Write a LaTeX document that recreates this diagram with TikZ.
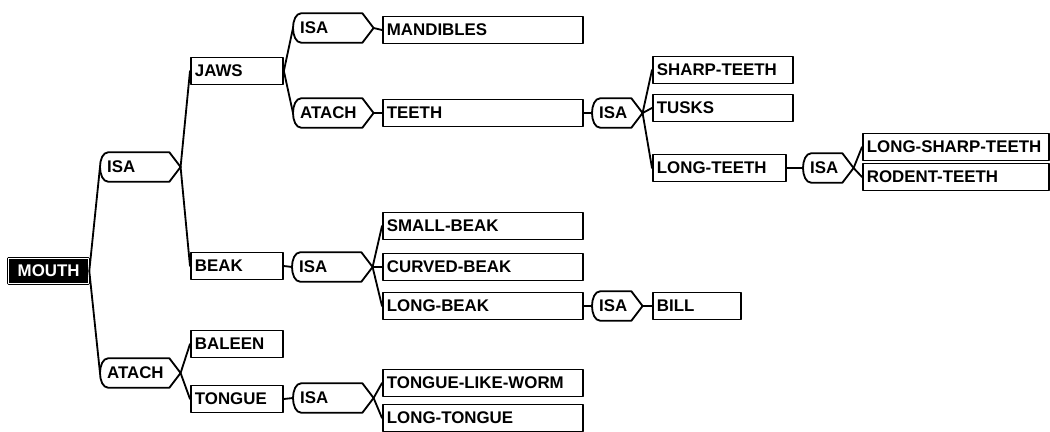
\documentclass[tikz,border=0pt]{standalone}
\usepackage{fontspec}
\setmainfont{Liberation Sans}
\tikzset{
  box/.style={draw, line width=1.3pt, anchor=west, inner xsep=0.1cm, inner ysep=1pt,
    minimum height=0.675cm, text width=#1, align=left},
  % relation tag: round on the left, pointed on the right
  rel/.style={anchor=west, inner xsep=0.17cm, inner ysep=1pt, minimum height=0.725cm,
    text width=#1, align=left,
    append after command={\pgfextra{\draw[line width=1.3pt, line join=round]
      ([xshift=6pt]\tikzlastnode.north west) -- ([xshift=-8pt]\tikzlastnode.north east)
      -- (\tikzlastnode.east) -- ([xshift=-8pt]\tikzlastnode.south east)
      -- ([xshift=6pt]\tikzlastnode.south west)
      .. controls ([xshift=-2pt]\tikzlastnode.south west) and ([xshift=-2pt]\tikzlastnode.north west) .. cycle;}}},
  link/.style={line width=1.3pt},
}

\begin{document}
\begin{tikzpicture}[line cap=round,line join=round,x=0.025cm,y=-0.025cm,
    font=\fontsize{12}{14}\selectfont\bfseries]
	\useasboundingbox (0,0) rectangle (1050,432);
	\node[anchor=west, draw, fill=black, text=white, line width=0.9pt, double=white,
	  double distance=0.5pt, minimum width=2.0cm, minimum height=0.63cm] (mouth) at (8,271) {MOUTH};
	\node[rel=1.66cm] (isa) at (100,167) {ISA};
	\node[rel=1.66cm] (atach) at (100,373) {ATACH};
	% upper branch
	\node[box=2.1cm] (jaws) at (190,71) {JAWS};
	\node[rel=1.66cm] (jawsisa) at (293,28) {ISA};
	\node[rel=1.66cm] (jawsatach) at (293,113) {ATACH};
	\node[box=4.8cm] (mandibles) at (382,30) {MANDIBLES};
	\node[box=4.8cm] (teeth) at (382,113) {TEETH};
	\node[rel=0.91cm] (teethisa) at (592,113) {ISA};
	\node[box=3.3cm] (sharp) at (652,70) {SHARP-TEETH};
	\node[box=3.3cm] (tusks) at (652,108) {TUSKS};
	\node[box=3.12cm] (longteeth) at (652,168) {LONG-TEETH};
	\node[rel=0.91cm] (longteethisa) at (803,168) {ISA};
	\node[box=4.45cm] (longsharp) at (862,147) {LONG-SHARP-TEETH};
	\node[box=4.45cm] (rodent) at (862,177) {RODENT-TEETH};
	\node[box=2.1cm] (beak) at (190,266) {BEAK};
	\node[rel=1.66cm] (beakisa) at (292,267) {ISA};
	\node[box=4.8cm] (small) at (382,226) {SMALL-BEAK};
	\node[box=4.8cm] (curved) at (382,267) {CURVED-BEAK};
	\node[box=4.8cm] (longbeak) at (382,306) {LONG-BEAK};
	\node[rel=0.91cm] (longbeakisa) at (592,306) {ISA};
	\node[box=2.0cm] (bill) at (652,306) {BILL};
	% lower branch
	\node[box=2.1cm] (baleen) at (190,344) {BALEEN};
	\node[box=2.1cm] (tongue) at (190,399) {TONGUE};
	\node[rel=1.66cm] (tongueisa) at (293,398) {ISA};
	\node[box=4.8cm] (worm) at (382,383) {TONGUE-LIKE-WORM};
	\node[box=4.8cm] (longtongue) at (382,418) {LONG-TONGUE};
	\foreach \a/\b in {mouth/isa, mouth/atach, isa/jaws, isa/beak, jaws/jawsisa,
	    jaws/jawsatach, jawsisa/mandibles, jawsatach/teeth, teeth/teethisa,
	    teethisa/sharp, teethisa/tusks, teethisa/longteeth, longteeth/longteethisa,
	    longteethisa/longsharp, longteethisa/rodent, beak/beakisa, beakisa/small,
	    beakisa/curved, beakisa/longbeak, longbeak/longbeakisa, longbeakisa/bill,
	    atach/baleen, atach/tongue, tongue/tongueisa, tongueisa/worm, tongueisa/longtongue}
	  \draw[link] (\a.east) -- (\b.west);
\end{tikzpicture}
\end{document}
